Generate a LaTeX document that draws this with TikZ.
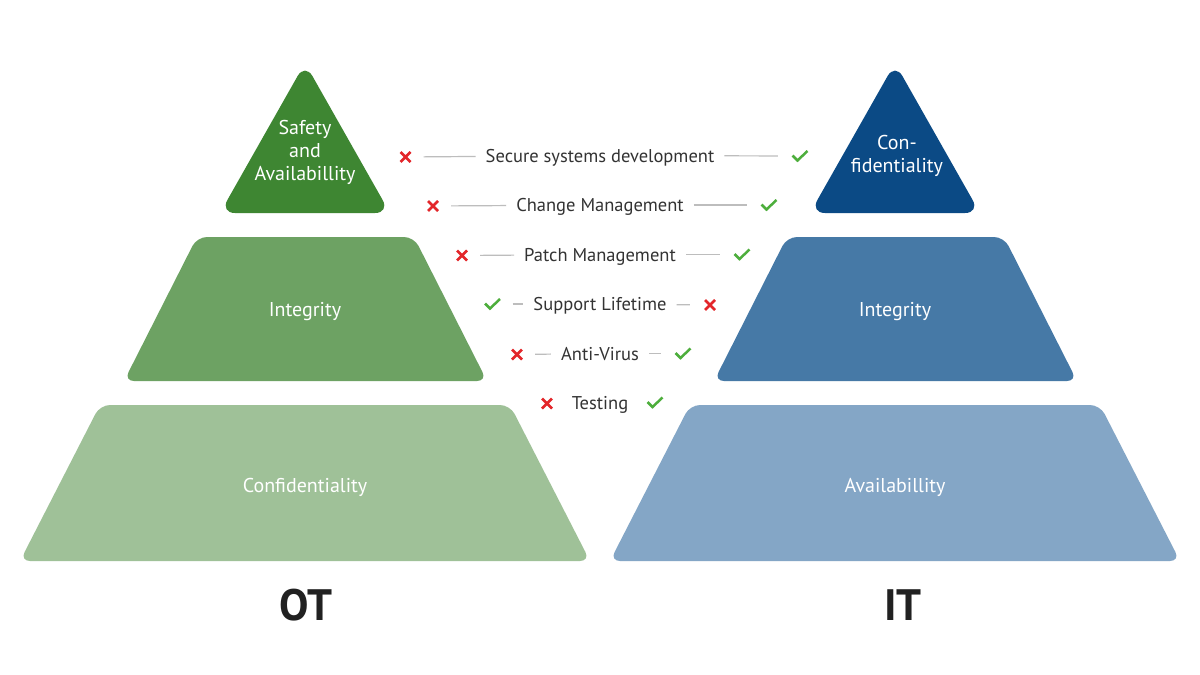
\documentclass[tikz,border=0pt]{standalone}
\usepackage{fontspec}
\setmainfont{PT Sans}
\definecolor{gA}{HTML}{3E8632}
\definecolor{gB}{HTML}{6DA263}
\definecolor{gC}{HTML}{9FC198}
\definecolor{bA}{HTML}{0B4A85}
\definecolor{bB}{HTML}{4679A6}
\definecolor{bC}{HTML}{84A6C6}
\definecolor{txt}{HTML}{333333}
\definecolor{xred}{HTML}{E3262A}
\definecolor{ckgreen}{HTML}{4DAE3C}
\definecolor{gline}{HTML}{BDBDBD}
\begin{document}
\begin{tikzpicture}[x=1pt,y=-1pt,
  shp/.style={rounded corners=10pt},
  tri/.style={rounded corners=15pt},
  lbl/.style={text=white,font=\fontsize{20}{23}\selectfont,align=center,inner sep=0pt},
  item/.style={text=txt,font=\fontsize{18.5}{22}\selectfont,inner sep=0pt,text height=13.5pt,text depth=0pt},
  big/.style={text=black!87,font=\fontsize{44}{50}\selectfont\bfseries,inner sep=0pt},
  xm/.style={minimum size=14pt,inner sep=0pt,path picture={
     \draw[xred,line width=2.8pt]
       ([xshift=-5pt,yshift=-5pt]path picture bounding box.center) -- ([xshift=5pt,yshift=5pt]path picture bounding box.center)
       ([xshift=-5pt,yshift=5pt]path picture bounding box.center) -- ([xshift=5pt,yshift=-5pt]path picture bounding box.center);}},
  ck/.style={minimum width=18pt,minimum height=14pt,inner sep=0pt,path picture={
     \draw[ckgreen,line width=2.5pt,line join=miter]
       ([xshift=-7.5pt,yshift=0.5pt]path picture bounding box.center) -- ([xshift=-2.5pt,yshift=-4.5pt]path picture bounding box.center) -- ([xshift=7.5pt,yshift=5pt]path picture bounding box.center);}},
  gl/.style={draw=gline,line width=1.2pt},
  lseg/.style={gl,shorten <=11pt,shorten >=10pt},
  rseg/.style={gl,shorten <=10pt,shorten >=13pt}
]
\useasboundingbox (0,0) rectangle (1200,675);
\fill[white] (0,0) rectangle (1200,675);

% OT pyramid
\fill[gA,tri] (305,63) -- (390,213) -- (220,213) -- cycle;
\fill[gB,shp] (197,237) -- (414,237) -- (487,381) -- (124,381) -- cycle;
\fill[gC,shp] (100,405) -- (510,405) -- (590,561) -- (20,561) -- cycle;
% IT pyramid
\fill[bA,tri] (895,63) -- (980,213) -- (810,213) -- cycle;
\fill[bB,shp] (787,237) -- (1004,237) -- (1077,381) -- (714,381) -- cycle;
\fill[bC,shp] (690,405) -- (1100,405) -- (1180,561) -- (610,561) -- cycle;

\node[lbl] (otA) at (305,152.5) {Safety\\and\\Availabillity};
\node[lbl] (otB) at (305,312) {Integrity};
\node[lbl] (otC) at (305,487) {Confidentiality};
\node[lbl] (itA) at (897,155.5) {Con-\\fidentiality};
\node[lbl] (itB) at (895,312) {Integrity};
\node[lbl] (itC) at (895,487) {Availabillity};

\node[big] (ot) at (306,605) {OT};
\node[big] (it) at (903,605) {IT};

% comparison list
\node[item] (t1) at (600,155.5) {Secure systems development};
\node[xm] (l1) at (405.5,157) {};
\node[ck] (r1) at (800,156) {};
\draw[lseg] (l1) -- (t1);
\draw[rseg] (t1) -- (r1);

\node[item] (t2) at (600,205) {Change Management};
\node[xm] (l2) at (433,206) {};
\node[ck] (r2) at (769,205) {};
\draw[lseg] (l2) -- (t2);
\draw[rseg] (t2) -- (r2);

\node[item] (t3) at (600,254.5) {Patch Management};
\node[xm] (l3) at (462,255.5) {};
\node[ck] (r3) at (742,254.5) {};
\draw[lseg] (l3) -- (t3);
\draw[rseg] (t3) -- (r3);

\node[item] (t4) at (600,304) {Support Lifetime};
\node[ck] (l4) at (492.5,304) {};
\node[xm] (r4) at (710,305) {};
\draw[lseg] (l4) -- (t4);
\draw[rseg] (t4) -- (r4);

\node[item] (t5) at (600,353.5) {Anti-Virus};
\node[xm] (l5) at (517,354.5) {};
\node[ck] (r5) at (683,353.5) {};
\draw[lseg] (l5) -- (t5);
\draw[rseg] (t5) -- (r5);

\node[item] (t6) at (600,402.5) {Testing};
\node[xm] (l6) at (547,403.5) {};
\node[ck] (r6) at (655,402.5) {};
\end{tikzpicture}
\end{document}
